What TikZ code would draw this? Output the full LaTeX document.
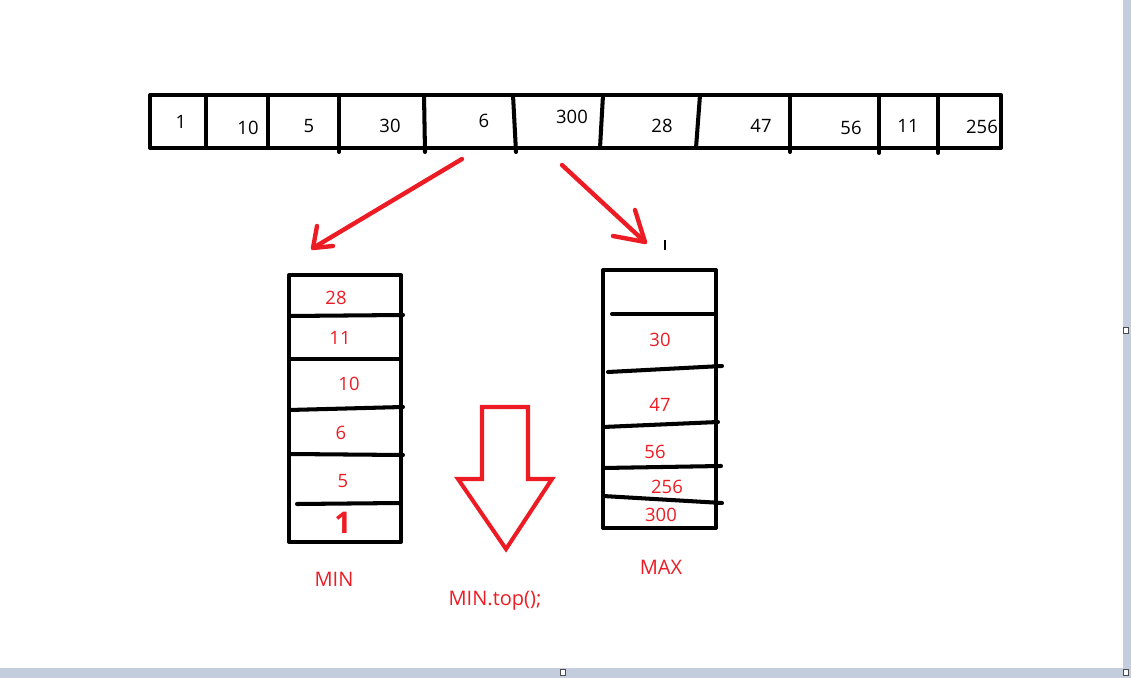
\documentclass[tikz,border=0pt]{standalone}
\usepackage{fontspec}
\setmainfont{Open Sans}
\usepackage{tkz-euclide}
\usetikzlibrary{calc,positioning}
\definecolor{paintred}{RGB}{237,28,36}
\definecolor{framegray}{RGB}{196,205,221}
\tikzset{
  cell/.style={line width=2.3pt,line cap=round,line join=round},
  num/.style={font=\fontsize{10.5}{12}\selectfont,inner sep=0pt},
  rednum/.style={num,text=paintred},
  redlabel/.style={rednum,font=\fontsize{11.4}{14}\selectfont},
  pen/.style={paintred,line width=2.5pt,line cap=round,line join=round},
  handle/.style={draw=black!70,fill=white,line width=0.5pt}
}

\begin{document}
\begin{tikzpicture}[x=0.02cm,y=-0.02cm]
  \useasboundingbox (0,0) rectangle (1131,678);
  % canvas frame
  \fill[framegray] (1123,0) rectangle (1131,678);
  \fill[framegray] (0,668) rectangle (1131,678);
  \draw[handle] (1123,327) rectangle (1128,333);
  \draw[handle] (560,669) rectangle (565,675);
  \draw[handle] (1123,669) rectangle (1128,675);
  % the array
  \tkzDefPoints{150/95/A,1001/95/B,1001/148/C,150/148/D}
  \tkzDrawPolygon[cell](A,B,C,D)
  \foreach \xt/\xb/\yb in {206/206/148,268/268/148,339/339/152,424/425/152,
    513/516/152,603/600/148,700/696/148,790/790/152,879/879/153,938/938/153}
    \draw[cell] (\xt,95) -- (\xb,\yb);
  \foreach \v/\x/\y in {1/181/122,10/248/128,5/309/126,30/390/126,6/484/121,
    300/572/117,28/662/126,47/761/126,56/851/128,11/908/126,256/982/127}
    \node[num] (a\v) at (\x,\y) {\v};
  % MIN stack
  \tkzDefPoints{289/275/E,401/275/F,401/542/G,289/542/H}
  \tkzDrawPolygon[cell](E,F,G,H)
  \foreach \xl/\yl/\xr/\yr in {289/316/403/315,289/359/401/359,289/410/403/407,
    289/454/403/455,297/504/401/503}
    \draw[cell] (\xl,\yl) -- (\xr,\yr);
  \foreach \v/\x/\y in {28/336/298,11/340/338,10/349/384,6/341/433,5/343/481}
    \node[rednum] (min\v) at (\x,\y) {\v};
  \node[rednum,font=\fontsize{17}{17}\selectfont\bfseries] (min1) at (343,523) {1};
  \node[redlabel] (minlabel) at (334,579) {MIN};
  % MAX stack
  \tkzDefPoints{603/270/I,716/270/J,716/528/K,603/528/L}
  \tkzDrawPolygon[cell](I,J,K,L)
  \foreach \xl/\yl/\xr/\yr in {612/314/716/314,608/372/722/366,603/427/718/422,
    603/468/721/466,603/496/722/503}
    \draw[cell] (\xl,\yl) -- (\xr,\yr);
  \foreach \v/\x/\y in {30/660/340,47/660/405,56/655/452,256/667/487,300/661/515}
    \node[rednum] (max\v) at (\x,\y) {\v};
  \node[redlabel] (maxlabel) at (661,567) {MAX};
  \draw[line width=1.2pt] (665,240) -- (665,250);
  % pen arrows
  \coordinate (s1) at (462,159); \coordinate (t1) at (313,248);
  \coordinate (s2) at (562,165); \coordinate (t2) at (645,242);
  \draw[pen] (s1) -- (t1);
  \draw[pen] (317,226) -- (t1) -- (333,246);
  \draw[pen] (s2) -- (t2);
  \draw[pen] (635,210) -- (t2) -- (613,236);
  % hollow arrow
  \tkzDefPoints{482/407/P1,528/407/P2,528/479/P3,552/479/P4,506/549/P5,458/479/P6,482/479/P7}
  \tkzDrawPolygon[paintred,line width=2.3pt,line join=miter](P1,P2,P3,P4,P5,P6,P7)
  \node[redlabel] (mintop) at (495,601) {MIN.top();};
\end{tikzpicture}
\end{document}
